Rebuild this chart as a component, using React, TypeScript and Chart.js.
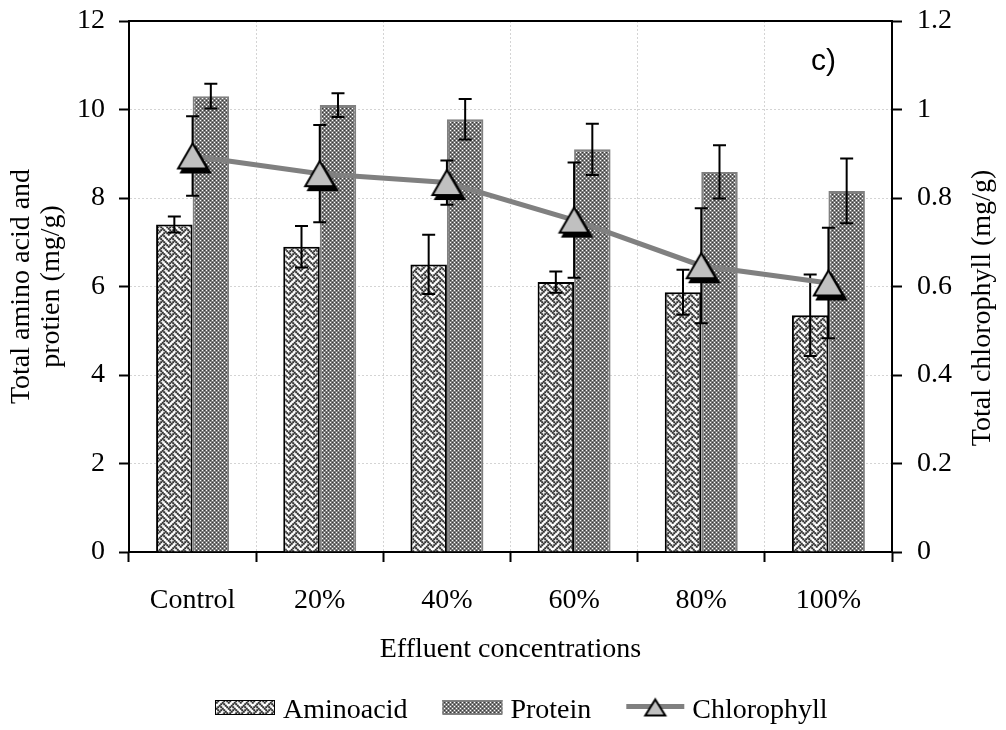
import React, { useEffect, useRef } from 'react';
import { Chart, registerables } from 'chart.js';

Chart.register(...registerables);

const categories = ['Control', '20%', '40%', '60%', '80%', '100%'];
const aminoacid = [7.4, 6.9, 6.5, 6.1, 5.87, 5.35];
const aminoacidErr = [0.18, 0.47, 0.67, 0.24, 0.51, 0.92];
const protein = [10.3, 10.1, 9.78, 9.1, 8.59, 8.16];
const proteinErr = [0.28, 0.27, 0.46, 0.58, 0.6, 0.73];
const chlorophyll = [0.895, 0.855, 0.835, 0.75, 0.647, 0.608];
const chlorophyllErr = [0.09, 0.11, 0.05, 0.13, 0.13, 0.125];
const leftTicks = [0, 2, 4, 6, 8, 10, 12];
const rightTicks = [0, 0.2, 0.4, 0.6, 0.8, 1, 1.2];
const seriesNames = ['Aminoacid', 'Protein', 'Chlorophyll'];
const leftTitle = ['Total amino acid and', 'protien (mg/g)'];
const rightTitle = 'Total chlorophyll (mg/g)';
const xTitle = 'Effluent concentrations';
const panelLabel = 'c)';

const SERIF = "'Liberation Serif', 'Times New Roman', serif";
const FS = 28;

// 8x8 "weave" bitmap, set bits are dark
const WEAVE = [0x88, 0x54, 0x22, 0x45, 0x88, 0x14, 0x22, 0x51];

function makeAminoPattern(ctx: CanvasRenderingContext2D) {
  const cell = 1.5;
  const c = document.createElement('canvas');
  c.width = 12;
  c.height = 12;
  const g = c.getContext('2d')!;
  g.fillStyle = '#ffffff';
  g.fillRect(0, 0, 12, 12);
  g.fillStyle = '#303030';
  for (let r = 0; r < 8; r++) {
    for (let b = 0; b < 8; b++) {
      if (WEAVE[r] & (0x80 >> b)) {
        for (const ox of [-12, 0, 12]) {
          for (const oy of [-12, 0, 12]) {
            g.fillRect(b * cell + ox - 0.25, r * cell + oy - 0.25, 2.0, 2.0);
          }
        }
      }
    }
  }
  return ctx.createPattern(c, 'repeat')!;
}

function makeProteinPattern(ctx: CanvasRenderingContext2D) {
  const c = document.createElement('canvas');
  c.width = 4;
  c.height = 4;
  const g = c.getContext('2d')!;
  g.fillStyle = '#7c7c7c';
  g.fillRect(0, 0, 4, 4);
  g.fillStyle = '#ffffff';
  g.fillRect(0, 0, 1, 1);
  g.fillRect(2, 2, 1, 1);
  g.fillStyle = '#3a3a3a';
  g.fillRect(2, 0, 1, 1);
  g.fillRect(0, 2, 1, 1);
  return ctx.createPattern(c, 'repeat')!;
}

function makeTriangle(w: number, h: number, shadow: boolean) {
  const pad = 6;
  const c = document.createElement('canvas');
  c.width = w + pad * 2;
  c.height = h + pad * 2;
  const g = c.getContext('2d')!;
  const cx = c.width / 2;
  const cy = c.height / 2;
  const tri = (dx: number, dy: number) => {
    g.beginPath();
    g.moveTo(cx + dx, cy - h / 2 + dy);
    g.lineTo(cx + w / 2 + dx, cy + h / 2 + dy);
    g.lineTo(cx - w / 2 + dx, cy + h / 2 + dy);
    g.closePath();
  };
  if (shadow) {
    tri(3, 4);
    g.fillStyle = '#000';
    g.fill();
    g.lineWidth = 2;
    g.strokeStyle = '#000';
    g.stroke();
  }
  tri(0, 0);
  g.fillStyle = '#c0c0c0';
  g.fill();
  g.lineWidth = 2;
  g.strokeStyle = '#000';
  g.stroke();
  return c;
}

const errorsByDataset = [aminoacidErr, proteinErr, chlorophyllErr];

function drawErrors(chart: any, di: number) {
  const ctx: CanvasRenderingContext2D = chart.ctx;
  const meta = chart.getDatasetMeta(di);
  const scale = chart.scales[meta.yAxisID];
  const ds = chart.data.datasets[di];
  const errs = errorsByDataset[di];
  ctx.save();
  ctx.strokeStyle = '#000';
  ctx.lineWidth = 2;
  meta.data.forEach((el: any, i: number) => {
    const v = ds.data[i] as number;
    const x = el.x;
    const yt = scale.getPixelForValue(v + errs[i]);
    const yb = scale.getPixelForValue(v - errs[i]);
    ctx.beginPath();
    ctx.moveTo(x, yt);
    ctx.lineTo(x, yb);
    ctx.moveTo(x - 6.5, yt);
    ctx.lineTo(x + 6.5, yt);
    ctx.moveTo(x - 6.5, yb);
    ctx.lineTo(x + 6.5, yb);
    ctx.stroke();
  });
  ctx.restore();
}

export default function App() {
  const ref = useRef<HTMLCanvasElement | null>(null);

  useEffect(() => {
    const canvas = ref.current!;
    const ctx = canvas.getContext('2d')!;
    const aminoPat = makeAminoPattern(ctx);
    const protPat = makeProteinPattern(ctx);
    const triImg = makeTriangle(29, 25, true);
    const legendTri = makeTriangle(20, 16, false);

    const errorPlugin = {
      id: 'errorBars',
      beforeDatasetDraw(chart: any, args: any) {
        if (args.meta.type === 'line') drawErrors(chart, args.index);
      },
      afterDatasetDraw(chart: any, args: any) {
        if (args.meta.type === 'bar') drawErrors(chart, args.index);
      },
    };

    const decorPlugin = {
      id: 'decor',
      afterDraw(chart: any) {
        const c: CanvasRenderingContext2D = chart.ctx;
        const area = chart.chartArea;
        c.save();
        // top frame line
        c.strokeStyle = '#000';
        c.lineWidth = 2;
        c.beginPath();
        c.moveTo(area.left, area.top);
        c.lineTo(area.right, area.top);
        c.stroke();
        // panel label
        c.fillStyle = '#000';
        c.font = `30px 'Liberation Sans', Arial, sans-serif`;
        c.textAlign = 'left';
        c.textBaseline = 'middle';
        c.fillText(panelLabel, 811, 62);
        // right axis title
        c.font = `${FS}px ${SERIF}`;
        c.save();
        c.translate(983, 308);
        c.rotate(-Math.PI / 2);
        c.textAlign = 'center';
        c.textBaseline = 'middle';
        c.fillText(rightTitle, 0, 0);
        c.restore();
        // legend
        const ly = 707.5;
        let x = 215;
        const gap = 35;
        c.textAlign = 'left';
        c.textBaseline = 'middle';
        // Aminoacid
        c.fillStyle = aminoPat;
        c.fillRect(x, ly - 7.5, 60, 15);
        c.strokeStyle = '#000';
        c.lineWidth = 1;
        c.strokeRect(x + 0.5, ly - 7.5 + 0.5, 59, 14);
        c.fillStyle = '#000';
        c.fillText(chart.data.datasets[0].label, x + 68, ly + 3.5);
        x += 68 + c.measureText(chart.data.datasets[0].label).width + gap;
        // Protein
        c.fillStyle = protPat;
        c.fillRect(x, ly - 7.5, 60, 15);
        c.strokeStyle = '#808080';
        c.lineWidth = 1;
        c.strokeRect(x + 0.5, ly - 7.5 + 0.5, 59, 14);
        c.fillStyle = '#000';
        c.fillText(chart.data.datasets[1].label, x + 68, ly + 3.5);
        x += 68 + c.measureText(chart.data.datasets[1].label).width + gap;
        // Chlorophyll
        c.strokeStyle = '#808080';
        c.lineWidth = 5;
        c.beginPath();
        c.moveTo(x, ly - 1);
        c.lineTo(x + 58, ly - 1);
        c.stroke();
        c.drawImage(legendTri, x + 29 - legendTri.width / 2, ly - legendTri.height / 2);
        c.fillStyle = '#000';
        c.fillText(chart.data.datasets[2].label, x + 66, ly + 3.5);
        c.restore();
      },
    };

    const tickFont = { family: SERIF, size: FS };
    const noPad = (s: any) => {
      s.paddingTop = 0;
      s.paddingBottom = 0;
    };

    const chart = new Chart(ctx, {
      type: 'bar',
      data: {
        labels: categories,
        datasets: [
          {
            type: 'bar',
            label: seriesNames[0],
            data: aminoacid,
            backgroundColor: aminoPat as any,
            borderColor: '#000',
            borderWidth: 2,
            categoryPercentage: 0.574,
            barPercentage: 1,
            yAxisID: 'y',
            order: 1,
          },
          {
            type: 'bar',
            label: seriesNames[1],
            data: protein,
            backgroundColor: protPat as any,
            borderColor: '#808080',
            borderWidth: 2,
            categoryPercentage: 0.574,
            barPercentage: 1,
            yAxisID: 'y',
            order: 1,
          },
          {
            type: 'line',
            label: seriesNames[2],
            data: chlorophyll,
            borderColor: '#808080',
            borderWidth: 5,
            pointStyle: triImg as any,
            pointRadius: 10,
            pointHoverRadius: 10,
            fill: false,
            tension: 0,
            yAxisID: 'y1',
            order: 0,
          },
        ],
      },
      options: {
        animation: false,
        responsive: false,
        events: [],
        layout: { padding: { top: 21, left: 0, right: 0, bottom: 0 } },
        plugins: {
          legend: { display: false },
          tooltip: { enabled: false },
        },
        scales: {
          x: {
            grid: {
              offset: true,
              color: '#d4d4d4',
              lineWidth: 1,
              tickColor: '#000',
              tickLength: 10,
              tickWidth: 2,
            },
            border: { display: true, color: '#000', width: 2, dash: [2, 2] },
            ticks: { font: tickFont, color: '#000', padding: 22, maxRotation: 0 },
            title: {
              display: true,
              text: xTitle,
              font: tickFont,
              color: '#000',
              padding: { top: 0, bottom: 64 },
            },
            afterFit: (s: any) => {
              s.height = 178;
              s.paddingLeft = 0;
              s.paddingRight = 0;
            },
          },
          y: {
            position: 'left',
            min: leftTicks[0],
            max: leftTicks[leftTicks.length - 1],
            ticks: {
              stepSize: leftTicks[1] - leftTicks[0],
              font: tickFont,
              color: '#000',
              padding: 14,
            },
            grid: {
              color: '#d4d4d4',
              lineWidth: 1,
              tickColor: '#000',
              tickLength: 10,
              tickWidth: 2,
            },
            border: { display: true, color: '#000', width: 2, dash: [2, 2] },
            title: {
              display: true,
              text: leftTitle,
              font: { family: SERIF, size: FS, lineHeight: 1.07 },
              color: '#000',
              padding: { top: 7, bottom: 0 },
            },
            afterFit: (s: any) => {
              s.width = 129;
              noPad(s);
            },
          },
          y1: {
            position: 'right',
            min: rightTicks[0],
            max: rightTicks[rightTicks.length - 1],
            ticks: {
              stepSize: rightTicks[1] - rightTicks[0],
              font: tickFont,
              color: '#000',
              padding: 15,
              callback: (v: any) => String(Number(Number(v).toFixed(2))),
            },
            grid: {
              drawOnChartArea: false,
              tickColor: '#000',
              tickLength: 10,
              tickWidth: 2,
            },
            border: { display: true, color: '#000', width: 2 },
            afterFit: (s: any) => {
              s.width = 114;
              noPad(s);
            },
          },
        },
      },
      plugins: [errorPlugin, decorPlugin],
    } as any);

    return () => chart.destroy();
  }, []);

  return (
    <div style={{ position: 'fixed', left: 0, top: 0, width: 1006, height: 730, background: '#fff' }}>
      <canvas ref={ref} width={1006} height={730} style={{ width: 1006, height: 730, display: 'block' }} />
    </div>
  );
}
